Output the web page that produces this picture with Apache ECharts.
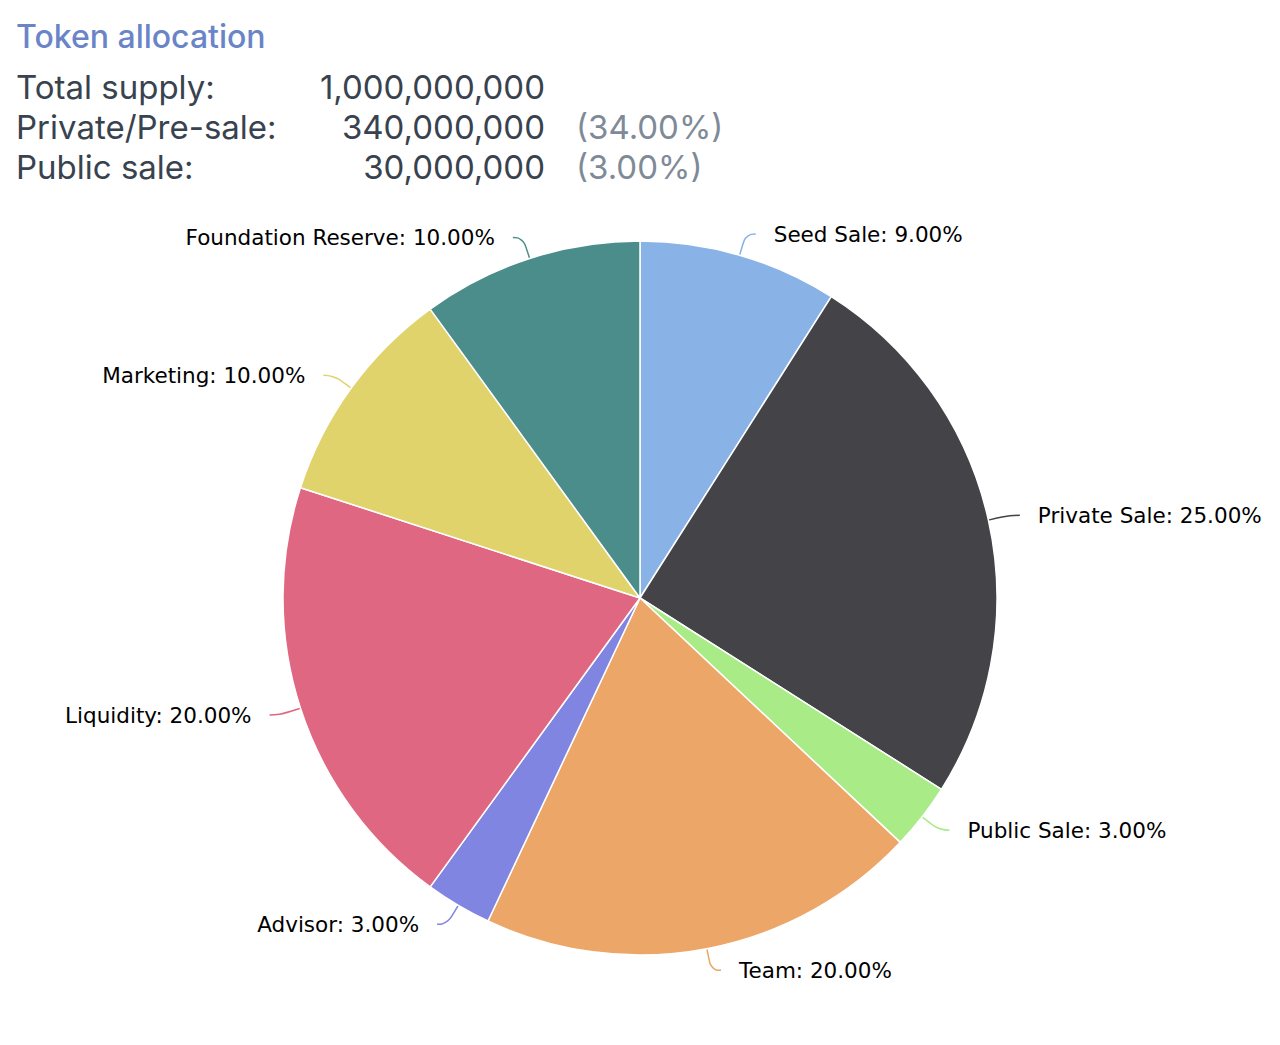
<!DOCTYPE html>
<html>
<head>
<meta charset="utf-8">
<title>Token allocation</title>
<script src="https://cdn.jsdelivr.net/npm/echarts@6/dist/echarts.min.js"></script>
<style>
  html, body { margin: 0; padding: 0; background: #fff; }
  #chart { width: 1280px; height: 1045px; }
</style>
</head>
<body>
<div id="chart"></div>
<script>
const categories = ['Seed Sale', 'Private Sale', 'Public Sale', 'Team', 'Advisor', 'Liquidity', 'Marketing', 'Foundation Reserve']
const shares = [9, 25, 3, 20, 3, 20, 10, 10]
const sliceColors = ['#89b3e7', '#434348', '#a8eb87', '#eca667', '#8085e1', '#e06781', '#e1d36b', '#4a8d8b']

const supplyLabels = ['Total supply:', 'Private/Pre-sale:', 'Public sale:']
const supplyAmounts = ['1,000,000,000', '340,000,000', '30,000,000']
const supplyPercents = ['', '(34.00%)', '(3.00%)']

const headFont = 'Inter, "Noto Sans", sans-serif'
const textColor = '#39424f'

const chart = echarts.init(document.getElementById('chart'), null, { renderer: 'svg' })

const header = [{
  type: 'text', left: 16, top: 20,
  style: { text: 'Token allocation', font: '500 32px ' + headFont, fill: '#6a85c7' }
}]
supplyLabels.forEach((label, i) => {
  const y = 70 + i * 40
  header.push({ type: 'text', left: 16, top: y, style: { text: label, font: '33px ' + headFont, fill: textColor } })
  header.push({ type: 'text', x: 545, y: y, style: { text: supplyAmounts[i], font: '33px ' + headFont, fill: textColor, align: 'right', verticalAlign: 'top' } })
  if (supplyPercents[i]) {
    header.push({ type: 'text', left: 576, top: y, style: { text: supplyPercents[i], font: '33px ' + headFont, fill: '#7f8a98' } })
  }
})

chart.setOption({
  animation: false,
  color: sliceColors,
  graphic: header,
  series: [{
    type: 'pie',
    center: [640, 598],
    radius: 357,
    startAngle: 90,
    clockwise: true,
    data: categories.map((name, i) => ({ name, value: shares[i] })),
    itemStyle: { borderColor: '#ffffff', borderWidth: 1.5 },
    label: {
      show: true,
      formatter: p => p.name + ': ' + p.value.toFixed(2) + '%',
      color: '#000',
      fontSize: 21.5,
      fontFamily: '"DejaVu Sans", sans-serif',
      distanceToLabelLine: 18
    },
    labelLine: {
      show: true,
      length: 22,
      length2: 10,
      smooth: 0.5,
      lineStyle: { width: 1.5 }
    },
    emphasis: { scale: false }
  }]
})
</script>
</body>
</html>
